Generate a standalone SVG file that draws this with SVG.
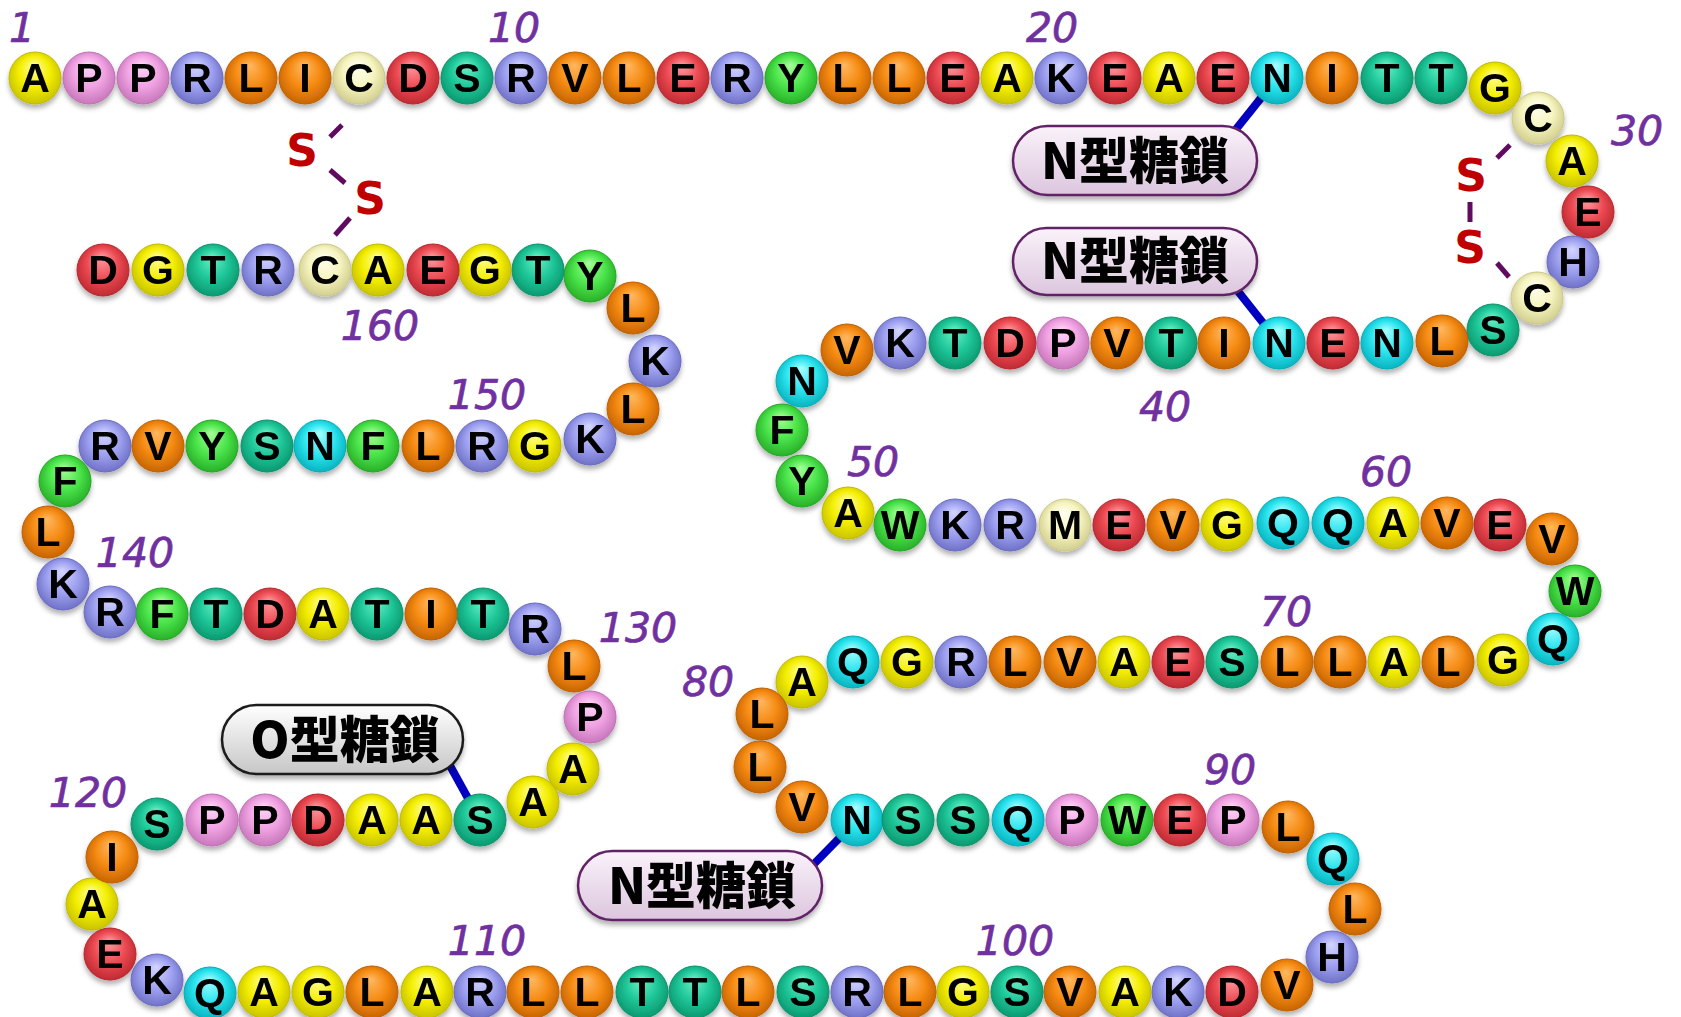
<svg xmlns="http://www.w3.org/2000/svg" width="1681" height="1017" viewBox="0 0 1681 1017">
<defs>
<radialGradient id="gy" cx="50%" cy="48%" r="55%" fx="48%" fy="25%"><stop offset="0" stop-color="#FFFF9A"/><stop offset="0.55" stop-color="#F4EE00"/><stop offset="1" stop-color="#C6C000"/></radialGradient>
<radialGradient id="gp" cx="50%" cy="48%" r="55%" fx="48%" fy="25%"><stop offset="0" stop-color="#FFD8F8"/><stop offset="0.55" stop-color="#F0A2E2"/><stop offset="1" stop-color="#C474B8"/></radialGradient>
<radialGradient id="gb" cx="50%" cy="48%" r="55%" fx="48%" fy="25%"><stop offset="0" stop-color="#D4D6FF"/><stop offset="0.55" stop-color="#9EA0F0"/><stop offset="1" stop-color="#6C6EC4"/></radialGradient>
<radialGradient id="go" cx="50%" cy="48%" r="55%" fx="48%" fy="25%"><stop offset="0" stop-color="#FFB860"/><stop offset="0.55" stop-color="#F58A12"/><stop offset="1" stop-color="#C46200"/></radialGradient>
<radialGradient id="gc" cx="50%" cy="48%" r="55%" fx="48%" fy="25%"><stop offset="0" stop-color="#FFFFF0"/><stop offset="0.55" stop-color="#F6F4C0"/><stop offset="1" stop-color="#D0CC8C"/></radialGradient>
<radialGradient id="gr" cx="50%" cy="48%" r="55%" fx="48%" fy="25%"><stop offset="0" stop-color="#FF9CA2"/><stop offset="0.55" stop-color="#EC4A52"/><stop offset="1" stop-color="#BC2830"/></radialGradient>
<radialGradient id="gt" cx="50%" cy="48%" r="55%" fx="48%" fy="25%"><stop offset="0" stop-color="#6AF2C6"/><stop offset="0.55" stop-color="#1EC698"/><stop offset="1" stop-color="#0A966E"/></radialGradient>
<radialGradient id="gg" cx="50%" cy="48%" r="55%" fx="48%" fy="25%"><stop offset="0" stop-color="#A8FF98"/><stop offset="0.55" stop-color="#4AE44A"/><stop offset="1" stop-color="#26AC26"/></radialGradient>
<radialGradient id="gn" cx="50%" cy="48%" r="55%" fx="48%" fy="25%"><stop offset="0" stop-color="#A8FFFF"/><stop offset="0.55" stop-color="#2AE4EE"/><stop offset="1" stop-color="#06B0BC"/></radialGradient>
<linearGradient id="pillN" x1="0" y1="0" x2="0" y2="1"><stop offset="0" stop-color="#FAF2FA"/><stop offset="1" stop-color="#DCC6DE"/></linearGradient>
<linearGradient id="pillO" x1="0" y1="0" x2="0" y2="1"><stop offset="0" stop-color="#FFFFFF"/><stop offset="1" stop-color="#C6C6C6"/></linearGradient>
<filter id="sh" x="-5%" y="-5%" width="110%" height="110%"><feDropShadow dx="0" dy="4" stdDeviation="2.5" flood-color="#000" flood-opacity="0.3"/></filter>
</defs>
<style>
.aa circle{r:26px;stroke-width:1}
.aa text{font-family:"Liberation Sans",Arial,sans-serif;font-weight:bold;font-size:41px;text-anchor:middle;fill:#000}
.y circle{fill:url(#gy);stroke:#C0BA00}
.p circle{fill:url(#gp);stroke:#C070B4}
.b circle{fill:url(#gb);stroke:#6A6CC0}
.o circle{fill:url(#go);stroke:#C06000}
.c circle{fill:url(#gc);stroke:#CCC888}
.r circle{fill:url(#gr);stroke:#B8262E}
.t circle{fill:url(#gt);stroke:#08926A}
.g circle{fill:url(#gg);stroke:#24A824}
.n circle{fill:url(#gn);stroke:#04ACB8}
.num{font-family:"DejaVu Sans",Verdana,sans-serif;font-style:italic;font-size:41px;fill:#7030A0;stroke:#7030A0;stroke-width:0.7;text-anchor:middle}
.ss{font-family:"DejaVu Sans",Verdana,sans-serif;font-weight:bold;font-size:44px;fill:#C00000;text-anchor:middle}
.dash{stroke:#600A60;stroke-width:5;fill:none}
.gly{stroke:#0000C0;stroke-width:8;fill:none}
.pill text{font-family:"Noto Sans CJK JP",sans-serif;font-weight:900;font-size:50px;text-anchor:middle;fill:#000}
.pn rect{fill:url(#pillN);stroke:#642468;stroke-width:2.5}
.po rect{fill:url(#pillO);stroke:#1A1A1A;stroke-width:2.5}
</style>
<rect width="1681" height="1017" fill="#FFFFFF"/>
<g id="connectors">
<line class="gly" x1="1233" y1="133" x2="1277" y2="78"/>
<line class="gly" x1="1233" y1="285" x2="1279" y2="343"/>
<line class="gly" x1="810" y1="868" x2="857" y2="820"/>
<line class="gly" x1="448" y1="762" x2="480" y2="820"/>
<line class="dash" x1="342" y1="125" x2="330" y2="137"/>
<line class="dash" x1="330" y1="170" x2="345" y2="183"/>
<line class="dash" x1="350" y1="218" x2="335" y2="235"/>
<line class="dash" x1="1510" y1="145" x2="1497" y2="158"/>
<line class="dash" x1="1470" y1="202" x2="1470" y2="222"/>
<line class="dash" x1="1497" y1="263" x2="1509" y2="277"/>
</g>
<g id="glycans" filter="url(#sh)">
<g id="nglycan1" class="pill pn"><rect x="1013" y="126" width="244" height="69" rx="34.5"/><text x="1135" y="179">N型糖鎖</text></g>
<g id="nglycan2" class="pill pn"><rect x="1013" y="228" width="244" height="67" rx="33.5"/><text x="1135" y="279">N型糖鎖</text></g>
<g id="nglycan3" class="pill pn"><rect x="578" y="851" width="244" height="69" rx="34.5"/><text x="702" y="904">N型糖鎖</text></g>
<g id="oglycan" class="pill po"><rect x="222" y="705" width="241" height="69" rx="34.5"/><text x="345" y="758">O型糖鎖</text></g>
</g>
<g id="ss1"><text class="ss" x="302" y="166">S</text><text class="ss" x="370" y="214">S</text></g>
<g id="ss2"><text class="ss" x="1471" y="191">S</text><text class="ss" x="1470" y="263">S</text></g>
<g id="labels">
<text class="num" x="22" y="42">1</text>
<text class="num" x="514" y="42">10</text>
<text class="num" x="1052" y="42">20</text>
<text class="num" x="1637" y="145">30</text>
<text class="num" x="1165" y="421">40</text>
<text class="num" x="873" y="476">50</text>
<text class="num" x="1386" y="486">60</text>
<text class="num" x="1286" y="626">70</text>
<text class="num" x="708" y="696">80</text>
<text class="num" x="1230" y="784">90</text>
<text class="num" x="1015" y="955">100</text>
<text class="num" x="487" y="955">110</text>
<text class="num" x="88" y="807">120</text>
<text class="num" x="638" y="642">130</text>
<text class="num" x="135" y="567">140</text>
<text class="num" x="487" y="409">150</text>
<text class="num" x="380" y="340">160</text>
</g>
<g id="chain" filter="url(#sh)">
<g id="aa1" class="aa y"><circle cx="35" cy="78"/><text x="35" y="92">A</text></g>
<g id="aa2" class="aa p"><circle cx="89" cy="78"/><text x="89" y="92">P</text></g>
<g id="aa3" class="aa p"><circle cx="143" cy="78"/><text x="143" y="92">P</text></g>
<g id="aa4" class="aa b"><circle cx="197" cy="78"/><text x="197" y="92">R</text></g>
<g id="aa5" class="aa o"><circle cx="251" cy="78"/><text x="251" y="92">L</text></g>
<g id="aa6" class="aa o"><circle cx="305" cy="78"/><text x="305" y="92">I</text></g>
<g id="aa7" class="aa c"><circle cx="359" cy="78"/><text x="359" y="92">C</text></g>
<g id="aa8" class="aa r"><circle cx="413" cy="78"/><text x="413" y="92">D</text></g>
<g id="aa9" class="aa t"><circle cx="467" cy="78"/><text x="467" y="92">S</text></g>
<g id="aa10" class="aa b"><circle cx="521" cy="78"/><text x="521" y="92">R</text></g>
<g id="aa11" class="aa o"><circle cx="575" cy="78"/><text x="575" y="92">V</text></g>
<g id="aa12" class="aa o"><circle cx="629" cy="78"/><text x="629" y="92">L</text></g>
<g id="aa13" class="aa r"><circle cx="683" cy="78"/><text x="683" y="92">E</text></g>
<g id="aa14" class="aa b"><circle cx="737" cy="78"/><text x="737" y="92">R</text></g>
<g id="aa15" class="aa g"><circle cx="791" cy="78"/><text x="791" y="92">Y</text></g>
<g id="aa16" class="aa o"><circle cx="845" cy="78"/><text x="845" y="92">L</text></g>
<g id="aa17" class="aa o"><circle cx="899" cy="78"/><text x="899" y="92">L</text></g>
<g id="aa18" class="aa r"><circle cx="953" cy="78"/><text x="953" y="92">E</text></g>
<g id="aa19" class="aa y"><circle cx="1007" cy="78"/><text x="1007" y="92">A</text></g>
<g id="aa20" class="aa b"><circle cx="1061" cy="78"/><text x="1061" y="92">K</text></g>
<g id="aa21" class="aa r"><circle cx="1115" cy="78"/><text x="1115" y="92">E</text></g>
<g id="aa22" class="aa y"><circle cx="1169" cy="78"/><text x="1169" y="92">A</text></g>
<g id="aa23" class="aa r"><circle cx="1223" cy="78"/><text x="1223" y="92">E</text></g>
<g id="aa24" class="aa n"><circle cx="1277" cy="78"/><text x="1277" y="92">N</text></g>
<g id="aa25" class="aa o"><circle cx="1332" cy="78"/><text x="1332" y="92">I</text></g>
<g id="aa26" class="aa t"><circle cx="1387" cy="78"/><text x="1387" y="92">T</text></g>
<g id="aa27" class="aa t"><circle cx="1441" cy="78"/><text x="1441" y="92">T</text></g>
<g id="aa28" class="aa y"><circle cx="1495" cy="88"/><text x="1495" y="102">G</text></g>
<g id="aa29" class="aa c"><circle cx="1538" cy="118"/><text x="1538" y="132">C</text></g>
<g id="aa30" class="aa y"><circle cx="1572" cy="161"/><text x="1572" y="175">A</text></g>
<g id="aa31" class="aa r"><circle cx="1588" cy="212"/><text x="1588" y="226">E</text></g>
<g id="aa32" class="aa b"><circle cx="1573" cy="262"/><text x="1573" y="276">H</text></g>
<g id="aa33" class="aa c"><circle cx="1537" cy="298"/><text x="1537" y="312">C</text></g>
<g id="aa34" class="aa t"><circle cx="1493" cy="330"/><text x="1493" y="344">S</text></g>
<g id="aa35" class="aa o"><circle cx="1442" cy="341"/><text x="1442" y="355">L</text></g>
<g id="aa36" class="aa n"><circle cx="1387" cy="343"/><text x="1387" y="357">N</text></g>
<g id="aa37" class="aa r"><circle cx="1333" cy="343"/><text x="1333" y="357">E</text></g>
<g id="aa38" class="aa n"><circle cx="1279" cy="343"/><text x="1279" y="357">N</text></g>
<g id="aa39" class="aa o"><circle cx="1224" cy="343"/><text x="1224" y="357">I</text></g>
<g id="aa40" class="aa t"><circle cx="1171" cy="343"/><text x="1171" y="357">T</text></g>
<g id="aa41" class="aa o"><circle cx="1117" cy="343"/><text x="1117" y="357">V</text></g>
<g id="aa42" class="aa p"><circle cx="1063" cy="343"/><text x="1063" y="357">P</text></g>
<g id="aa43" class="aa r"><circle cx="1010" cy="343"/><text x="1010" y="357">D</text></g>
<g id="aa44" class="aa t"><circle cx="955" cy="343"/><text x="955" y="357">T</text></g>
<g id="aa45" class="aa b"><circle cx="900" cy="343"/><text x="900" y="357">K</text></g>
<g id="aa46" class="aa o"><circle cx="847" cy="350"/><text x="847" y="364">V</text></g>
<g id="aa47" class="aa n"><circle cx="802" cy="381"/><text x="802" y="395">N</text></g>
<g id="aa48" class="aa g"><circle cx="782" cy="430"/><text x="782" y="444">F</text></g>
<g id="aa49" class="aa g"><circle cx="802" cy="481"/><text x="802" y="495">Y</text></g>
<g id="aa50" class="aa y"><circle cx="848" cy="513"/><text x="848" y="527">A</text></g>
<g id="aa51" class="aa g"><circle cx="900" cy="525"/><text x="900" y="539">W</text></g>
<g id="aa52" class="aa b"><circle cx="955" cy="525"/><text x="955" y="539">K</text></g>
<g id="aa53" class="aa b"><circle cx="1010" cy="525"/><text x="1010" y="539">R</text></g>
<g id="aa54" class="aa c"><circle cx="1065" cy="525"/><text x="1065" y="539">M</text></g>
<g id="aa55" class="aa r"><circle cx="1119" cy="525"/><text x="1119" y="539">E</text></g>
<g id="aa56" class="aa o"><circle cx="1173" cy="525"/><text x="1173" y="539">V</text></g>
<g id="aa57" class="aa y"><circle cx="1227" cy="525"/><text x="1227" y="539">G</text></g>
<g id="aa58" class="aa n"><circle cx="1283" cy="523"/><text x="1283" y="537">Q</text></g>
<g id="aa59" class="aa n"><circle cx="1338" cy="523"/><text x="1338" y="537">Q</text></g>
<g id="aa60" class="aa y"><circle cx="1393" cy="523"/><text x="1393" y="537">A</text></g>
<g id="aa61" class="aa o"><circle cx="1447" cy="523"/><text x="1447" y="537">V</text></g>
<g id="aa62" class="aa r"><circle cx="1500" cy="525"/><text x="1500" y="539">E</text></g>
<g id="aa63" class="aa o"><circle cx="1552" cy="539"/><text x="1552" y="553">V</text></g>
<g id="aa64" class="aa g"><circle cx="1575" cy="591"/><text x="1575" y="605">W</text></g>
<g id="aa65" class="aa n"><circle cx="1553" cy="639"/><text x="1553" y="653">Q</text></g>
<g id="aa66" class="aa y"><circle cx="1503" cy="660"/><text x="1503" y="674">G</text></g>
<g id="aa67" class="aa o"><circle cx="1448" cy="662"/><text x="1448" y="676">L</text></g>
<g id="aa68" class="aa y"><circle cx="1394" cy="662"/><text x="1394" y="676">A</text></g>
<g id="aa69" class="aa o"><circle cx="1340" cy="662"/><text x="1340" y="676">L</text></g>
<g id="aa70" class="aa o"><circle cx="1287" cy="662"/><text x="1287" y="676">L</text></g>
<g id="aa71" class="aa t"><circle cx="1232" cy="662"/><text x="1232" y="676">S</text></g>
<g id="aa72" class="aa r"><circle cx="1178" cy="662"/><text x="1178" y="676">E</text></g>
<g id="aa73" class="aa y"><circle cx="1124" cy="662"/><text x="1124" y="676">A</text></g>
<g id="aa74" class="aa o"><circle cx="1070" cy="662"/><text x="1070" y="676">V</text></g>
<g id="aa75" class="aa o"><circle cx="1015" cy="662"/><text x="1015" y="676">L</text></g>
<g id="aa76" class="aa b"><circle cx="961" cy="662"/><text x="961" y="676">R</text></g>
<g id="aa77" class="aa y"><circle cx="907" cy="662"/><text x="907" y="676">G</text></g>
<g id="aa78" class="aa n"><circle cx="853" cy="662"/><text x="853" y="676">Q</text></g>
<g id="aa79" class="aa y"><circle cx="802" cy="682"/><text x="802" y="696">A</text></g>
<g id="aa80" class="aa o"><circle cx="762" cy="714"/><text x="762" y="728">L</text></g>
<g id="aa81" class="aa o"><circle cx="760" cy="767"/><text x="760" y="781">L</text></g>
<g id="aa82" class="aa o"><circle cx="802" cy="807"/><text x="802" y="821">V</text></g>
<g id="aa83" class="aa n"><circle cx="857" cy="820"/><text x="857" y="834">N</text></g>
<g id="aa84" class="aa t"><circle cx="908" cy="820"/><text x="908" y="834">S</text></g>
<g id="aa85" class="aa t"><circle cx="963" cy="820"/><text x="963" y="834">S</text></g>
<g id="aa86" class="aa n"><circle cx="1018" cy="820"/><text x="1018" y="834">Q</text></g>
<g id="aa87" class="aa p"><circle cx="1072" cy="820"/><text x="1072" y="834">P</text></g>
<g id="aa88" class="aa g"><circle cx="1127" cy="820"/><text x="1127" y="834">W</text></g>
<g id="aa89" class="aa r"><circle cx="1180" cy="820"/><text x="1180" y="834">E</text></g>
<g id="aa90" class="aa p"><circle cx="1233" cy="820"/><text x="1233" y="834">P</text></g>
<g id="aa91" class="aa o"><circle cx="1288" cy="827"/><text x="1288" y="841">L</text></g>
<g id="aa92" class="aa n"><circle cx="1333" cy="859"/><text x="1333" y="873">Q</text></g>
<g id="aa93" class="aa o"><circle cx="1355" cy="909"/><text x="1355" y="923">L</text></g>
<g id="aa94" class="aa b"><circle cx="1332" cy="957"/><text x="1332" y="971">H</text></g>
<g id="aa95" class="aa o"><circle cx="1287" cy="985"/><text x="1287" y="999">V</text></g>
<g id="aa96" class="aa r"><circle cx="1232" cy="992"/><text x="1232" y="1006">D</text></g>
<g id="aa97" class="aa b"><circle cx="1178" cy="992"/><text x="1178" y="1006">K</text></g>
<g id="aa98" class="aa y"><circle cx="1125" cy="992"/><text x="1125" y="1006">A</text></g>
<g id="aa99" class="aa o"><circle cx="1070" cy="992"/><text x="1070" y="1006">V</text></g>
<g id="aa100" class="aa t"><circle cx="1017" cy="992"/><text x="1017" y="1006">S</text></g>
<g id="aa101" class="aa y"><circle cx="963" cy="992"/><text x="963" y="1006">G</text></g>
<g id="aa102" class="aa o"><circle cx="910" cy="992"/><text x="910" y="1006">L</text></g>
<g id="aa103" class="aa b"><circle cx="857" cy="992"/><text x="857" y="1006">R</text></g>
<g id="aa104" class="aa t"><circle cx="803" cy="992"/><text x="803" y="1006">S</text></g>
<g id="aa105" class="aa o"><circle cx="748" cy="992"/><text x="748" y="1006">L</text></g>
<g id="aa106" class="aa t"><circle cx="695" cy="992"/><text x="695" y="1006">T</text></g>
<g id="aa107" class="aa t"><circle cx="642" cy="992"/><text x="642" y="1006">T</text></g>
<g id="aa108" class="aa o"><circle cx="587" cy="992"/><text x="587" y="1006">L</text></g>
<g id="aa109" class="aa o"><circle cx="533" cy="992"/><text x="533" y="1006">L</text></g>
<g id="aa110" class="aa b"><circle cx="480" cy="992"/><text x="480" y="1006">R</text></g>
<g id="aa111" class="aa y"><circle cx="427" cy="992"/><text x="427" y="1006">A</text></g>
<g id="aa112" class="aa o"><circle cx="372" cy="992"/><text x="372" y="1006">L</text></g>
<g id="aa113" class="aa y"><circle cx="318" cy="992"/><text x="318" y="1006">G</text></g>
<g id="aa114" class="aa y"><circle cx="264" cy="992"/><text x="264" y="1006">A</text></g>
<g id="aa115" class="aa n"><circle cx="210" cy="993"/><text x="210" y="1007">Q</text></g>
<g id="aa116" class="aa b"><circle cx="157" cy="980"/><text x="157" y="994">K</text></g>
<g id="aa117" class="aa r"><circle cx="110" cy="954"/><text x="110" y="968">E</text></g>
<g id="aa118" class="aa y"><circle cx="92" cy="904"/><text x="92" y="918">A</text></g>
<g id="aa119" class="aa o"><circle cx="112" cy="857"/><text x="112" y="871">I</text></g>
<g id="aa120" class="aa t"><circle cx="157" cy="824"/><text x="157" y="838">S</text></g>
<g id="aa121" class="aa p"><circle cx="212" cy="820"/><text x="212" y="834">P</text></g>
<g id="aa122" class="aa p"><circle cx="265" cy="820"/><text x="265" y="834">P</text></g>
<g id="aa123" class="aa r"><circle cx="318" cy="820"/><text x="318" y="834">D</text></g>
<g id="aa124" class="aa y"><circle cx="372" cy="820"/><text x="372" y="834">A</text></g>
<g id="aa125" class="aa y"><circle cx="426" cy="820"/><text x="426" y="834">A</text></g>
<g id="aa126" class="aa t"><circle cx="480" cy="820"/><text x="480" y="834">S</text></g>
<g id="aa127" class="aa y"><circle cx="533" cy="802"/><text x="533" y="816">A</text></g>
<g id="aa128" class="aa y"><circle cx="573" cy="769"/><text x="573" y="783">A</text></g>
<g id="aa129" class="aa p"><circle cx="590" cy="717"/><text x="590" y="731">P</text></g>
<g id="aa130" class="aa o"><circle cx="574" cy="666"/><text x="574" y="680">L</text></g>
<g id="aa131" class="aa b"><circle cx="535" cy="629"/><text x="535" y="643">R</text></g>
<g id="aa132" class="aa t"><circle cx="483" cy="614"/><text x="483" y="628">T</text></g>
<g id="aa133" class="aa o"><circle cx="431" cy="614"/><text x="431" y="628">I</text></g>
<g id="aa134" class="aa t"><circle cx="377" cy="614"/><text x="377" y="628">T</text></g>
<g id="aa135" class="aa y"><circle cx="323" cy="614"/><text x="323" y="628">A</text></g>
<g id="aa136" class="aa r"><circle cx="270" cy="614"/><text x="270" y="628">D</text></g>
<g id="aa137" class="aa t"><circle cx="216" cy="614"/><text x="216" y="628">T</text></g>
<g id="aa138" class="aa g"><circle cx="162" cy="614"/><text x="162" y="628">F</text></g>
<g id="aa139" class="aa b"><circle cx="110" cy="612"/><text x="110" y="626">R</text></g>
<g id="aa140" class="aa b"><circle cx="63" cy="584"/><text x="63" y="598">K</text></g>
<g id="aa141" class="aa o"><circle cx="48" cy="532"/><text x="48" y="546">L</text></g>
<g id="aa142" class="aa g"><circle cx="65" cy="481"/><text x="65" y="495">F</text></g>
<g id="aa143" class="aa b"><circle cx="105" cy="446"/><text x="105" y="460">R</text></g>
<g id="aa144" class="aa o"><circle cx="158" cy="446"/><text x="158" y="460">V</text></g>
<g id="aa145" class="aa g"><circle cx="212" cy="446"/><text x="212" y="460">Y</text></g>
<g id="aa146" class="aa t"><circle cx="267" cy="446"/><text x="267" y="460">S</text></g>
<g id="aa147" class="aa n"><circle cx="320" cy="446"/><text x="320" y="460">N</text></g>
<g id="aa148" class="aa g"><circle cx="373" cy="446"/><text x="373" y="460">F</text></g>
<g id="aa149" class="aa o"><circle cx="428" cy="446"/><text x="428" y="460">L</text></g>
<g id="aa150" class="aa b"><circle cx="482" cy="446"/><text x="482" y="460">R</text></g>
<g id="aa151" class="aa y"><circle cx="535" cy="446"/><text x="535" y="460">G</text></g>
<g id="aa152" class="aa b"><circle cx="590" cy="439"/><text x="590" y="453">K</text></g>
<g id="aa153" class="aa o"><circle cx="633" cy="409"/><text x="633" y="423">L</text></g>
<g id="aa154" class="aa b"><circle cx="655" cy="361"/><text x="655" y="375">K</text></g>
<g id="aa155" class="aa o"><circle cx="633" cy="308"/><text x="633" y="322">L</text></g>
<g id="aa156" class="aa g"><circle cx="590" cy="276"/><text x="590" y="290">Y</text></g>
<g id="aa157" class="aa t"><circle cx="538" cy="270"/><text x="538" y="284">T</text></g>
<g id="aa158" class="aa y"><circle cx="485" cy="270"/><text x="485" y="284">G</text></g>
<g id="aa159" class="aa r"><circle cx="433" cy="270"/><text x="433" y="284">E</text></g>
<g id="aa160" class="aa y"><circle cx="378" cy="270"/><text x="378" y="284">A</text></g>
<g id="aa161" class="aa c"><circle cx="325" cy="270"/><text x="325" y="284">C</text></g>
<g id="aa162" class="aa b"><circle cx="268" cy="270"/><text x="268" y="284">R</text></g>
<g id="aa163" class="aa t"><circle cx="213" cy="270"/><text x="213" y="284">T</text></g>
<g id="aa164" class="aa y"><circle cx="158" cy="270"/><text x="158" y="284">G</text></g>
<g id="aa165" class="aa r"><circle cx="103" cy="270"/><text x="103" y="284">D</text></g>
</g>
</svg>
